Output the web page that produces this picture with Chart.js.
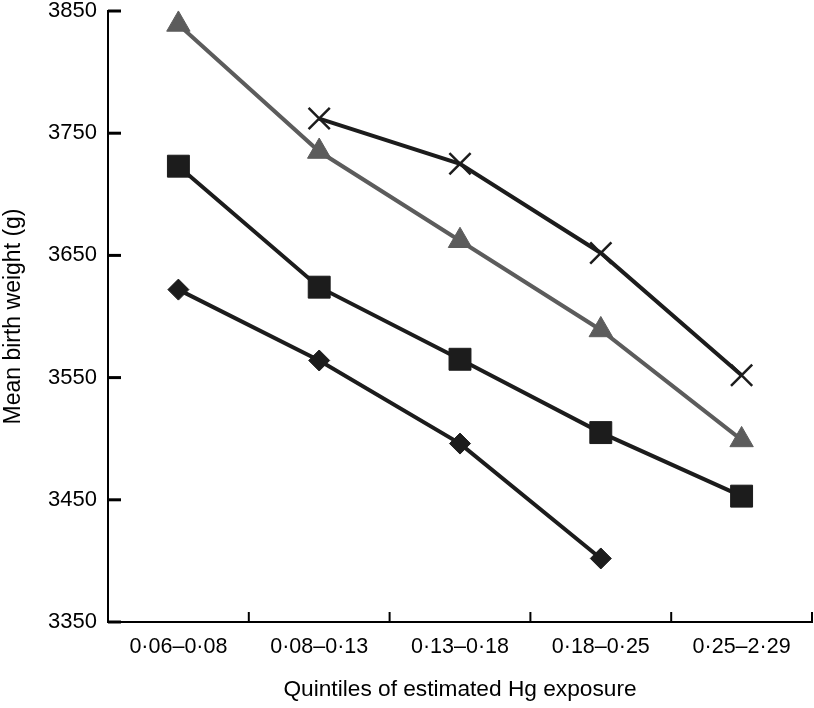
<!DOCTYPE html>
<html>
<head>
<meta charset="utf-8">
<script src="https://cdn.jsdelivr.net/npm/chart.js@4"></script>
<style>
  html, body { margin: 0; padding: 0; background: #fff; }
  #wrap { width: 814px; height: 708px; }
</style>
</head>
<body>
<div id="wrap"><canvas id="chart"></canvas></div>
<script>
  const quintiles = ["0·06–0·08", "0·08–0·13", "0·13–0·18", "0·18–0·25", "0·25–2·29"];
  const yTicks = [3350, 3450, 3550, 3650, 3750, 3850];

  const diamondSeries = [3622, 3564, 3496, 3402, null];
  const squareSeries = [3723, 3624, 3565, 3505, 3453];
  const triangleSeries = [3839, 3735, 3662, 3589, 3499];
  const crossSeries = [null, 3762, 3725, 3652, 3552];

  const BLACK = "#1c1c1c";
  const GREY = "#5c5c5c";
  const FONT = "'Liberation Sans', Arial, sans-serif";

  // inner tick marks (ticks point into the plot)
  const innerTicks = {
    id: "innerTicks",
    afterDraw(chart) {
      const ctx = chart.ctx;
      const area = chart.chartArea;
      const x = chart.scales.x;
      const y = chart.scales.y;
      ctx.save();
      ctx.strokeStyle = "#000";
      ctx.lineWidth = 3;
      y.ticks.forEach((t, i) => {
        const py = y.getPixelForTick(i);
        ctx.beginPath();
        ctx.moveTo(area.left, py);
        ctx.lineTo(area.left + 13, py);
        ctx.stroke();
      });
      ctx.lineWidth = 2;
      const half = (x.getPixelForValue(1) - x.getPixelForValue(0)) / 2;
      for (let i = 1; i <= quintiles.length; i++) {
        const px = x.getPixelForValue(i) - half;
        ctx.beginPath();
        ctx.moveTo(px, area.bottom);
        ctx.lineTo(px, area.bottom - 10);
        ctx.stroke();
      }
      ctx.restore();
    }
  };

  function series(data, style, radius, color, fill) {
    return {
      data,
      borderColor: color,
      borderWidth: 4,
      pointStyle: style,
      pointRadius: radius,
      pointHoverRadius: radius,
      pointBackgroundColor: fill,
      pointBorderColor: fill,
      pointBorderWidth: style === "crossRot" ? 2.5 : 1,
      tension: 0,
      fill: false,
      clip: false
    };
  }

  new Chart(document.getElementById("chart"), {
    type: "line",
    data: {
      labels: quintiles,
      datasets: [
        series(diamondSeries, "rectRot", 10.5, BLACK, BLACK),
        series(squareSeries, "rect", 15.5, BLACK, BLACK),
        series(triangleSeries, "triangle", 13.5, GREY, GREY),
        series(crossSeries, "crossRot", 15, BLACK, BLACK)
      ]
    },
    options: {
      responsive: true,
      maintainAspectRatio: false,
      animation: false,
      layout: { autoPadding: false, padding: { top: 11, right: 2, left: 0, bottom: 0 } },
      plugins: {
        legend: { display: false },
        tooltip: { enabled: false }
      },
      scales: {
        x: {
          offset: true,
          grid: { display: false, drawTicks: false, offset: true },
          border: { display: true, color: "#000", width: 2 },
          afterFit(scale) {
            scale.height = 86;
            scale.paddingLeft = 0;
            scale.paddingRight = 0;
          },
          ticks: {
            color: "#000",
            padding: 12,
            maxRotation: 0,
            font: { family: FONT, size: 21.5 }
          },
          title: {
            display: true,
            text: "Quintiles of estimated Hg exposure",
            color: "#000",
            padding: { top: 0, bottom: 5 },
            font: { family: FONT, size: 22.7 }
          }
        },
        y: {
          min: 3350,
          max: 3850,
          afterBuildTicks(scale) {
            scale.ticks = yTicks.map(v => ({ value: v }));
          },
          afterFit(scale) {
            scale.width = 108;
            scale.paddingTop = 0;
            scale.paddingBottom = 0;
          },
          grid: { display: false, drawTicks: false },
          border: { display: true, color: "#000", width: 2 },
          ticks: {
            color: "#000",
            padding: 11,
            font: { family: FONT, size: 22 },
            callback: v => String(v)
          },
          title: {
            display: true,
            text: "Mean birth weight (g)",
            color: "#000",
            padding: { top: 0, bottom: 0 },
            font: { family: FONT, size: 23 }
          }
        }
      }
    },
    plugins: [innerTicks]
  });
</script>
</body>
</html>
